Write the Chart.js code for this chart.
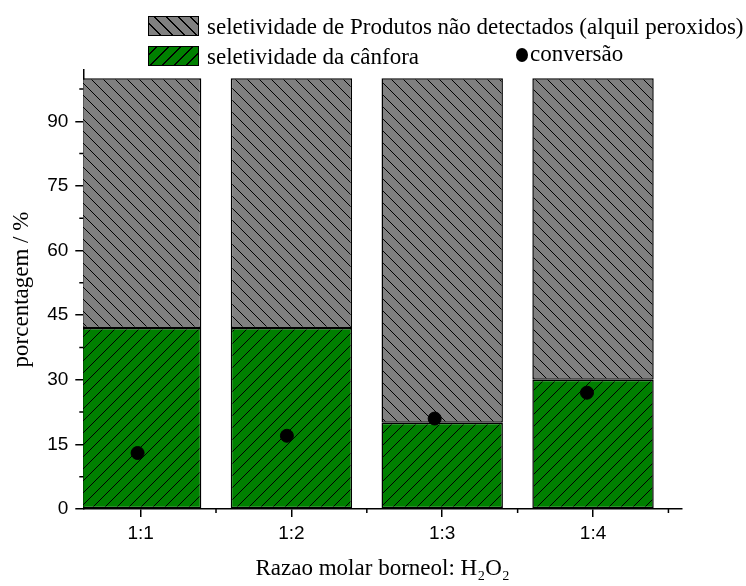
<!DOCTYPE html>
<html lang="pt">
  <head>
    <meta charset="UTF-8" />
    <title>Razao molar borneol</title>
    <script src="https://cdn.jsdelivr.net/npm/chart.js@4"></script>
    <style>
      body { margin: 0; background: #fff; }
      #wrap { position: relative; width: 746px; height: 586px; }
      .leg { position: absolute; font-family: "Liberation Serif", serif; font-size: 23px; color: #000; white-space: nowrap; line-height: 1; }
      .sw { position: absolute; width: 49px; height: 18px; border: 1.5px solid #000; }
      .sw-gray { background: repeating-linear-gradient(45deg, #808080 0 7.5px, #000 7.5px 8.5px); }
      .sw-green { background: repeating-linear-gradient(-45deg, #008000 0 7.5px, #000 7.5px 8.5px); }
      .dot { position: absolute; width: 12px; height: 14px; border-radius: 50%; background: #000; }
    </style>
  </head>
  <body>
    <div id="wrap">
      <canvas id="chart" width="746" height="586"></canvas>
      <div class="sw sw-gray" style="left: 148px; top: 16px"></div>
      <div class="leg" style="left: 207px; top: 15px">seletividade de Produtos não detectados (alquil peroxidos)</div>
      <div class="sw sw-green" style="left: 148px; top: 46px"></div>
      <div class="leg" style="left: 207px; top: 45px">seletividade da cânfora</div>
      <div class="dot" style="left: 516px; top: 48px"></div>
      <div class="leg" style="left: 530px; top: 42px">conversão</div>
    </div>
    <script>
      // razão molar borneol : H2O2
      var ratios = ["1:1", "1:2", "1:3", "1:4"];
      var ratioX = [1, 2, 3, 4];
      var camphor = [42, 42, 20, 30]; // seletividade da cânfora
      var undetected = [58, 58, 80, 70]; // produtos não detectados
      var conversion = [13, 17, 21, 27];
      var convX = [0.98, 1.97, 2.95, 3.96]; // os pontos ficam um pouco à esquerda
      var yTicks = [0, 15, 30, 45, 60, 75, 90];
      var yMinor = [7.5, 22.5, 37.5, 52.5, 67.5, 82.5, 97.5];
      var xMinor = [1.5, 2.5, 3.5, 4.5];

      function hatch(bg, forward) {
        var c = document.createElement("canvas");
        c.width = 12;
        c.height = 12;
        var g = c.getContext("2d");
        g.fillStyle = bg;
        g.fillRect(0, 0, 12, 12);
        g.strokeStyle = "#000";
        g.lineWidth = 1;
        g.beginPath();
        if (forward) {
          g.moveTo(-2, 14); g.lineTo(14, -2);
          g.moveTo(-2, 2); g.lineTo(2, -2);
          g.moveTo(10, 14); g.lineTo(14, 10);
        } else {
          g.moveTo(-2, -2); g.lineTo(14, 14);
          g.moveTo(-2, 10); g.lineTo(2, 14);
          g.moveTo(10, -2); g.lineTo(14, 2);
        }
        g.stroke();
        return g.createPattern(c, "repeat");
      }

      var ctx = document.getElementById("chart").getContext("2d");
      var greenFill = hatch("#008000", true);
      var grayFill = hatch("#808080", false);

      // ticks menores (Chart.js nao tem minor ticks)
      var minorTicks = {
        id: "minorTicks",
        afterDraw(chart) {
          var c = chart.ctx;
          var xs = chart.scales.x, ys = chart.scales.y;
          c.save();
          c.strokeStyle = "#000";
          c.lineWidth = 1.5;
          c.beginPath();
          xMinor.forEach(function (v) {
            var px = xs.getPixelForValue(v);
            c.moveTo(px, ys.bottom);
            c.lineTo(px, ys.bottom + 4);
          });
          yMinor.forEach(function (v) {
            var py = ys.getPixelForValue(v);
            c.moveTo(xs.left, py);
            c.lineTo(xs.left - 4, py);
          });
          c.stroke();
          c.restore();
        },
      };

      var chart = new Chart(ctx, {
        data: {
          datasets: [
            {
              type: "bar",
              label: "seletividade da cânfora",
              data: ratioX.map((x, i) => ({ x: x, y: camphor[i] })),
              backgroundColor: greenFill,
              borderColor: "#000",
              borderWidth: 1.5,
              borderSkipped: false,
              stack: "sel",
              categoryPercentage: 1,
              barPercentage: 0.805,
              order: 2,
            },
            {
              type: "bar",
              label: "seletividade de Produtos não detectados (alquil peroxidos)",
              data: ratioX.map((x, i) => ({ x: x, y: undetected[i] })),
              backgroundColor: grayFill,
              borderColor: "#000",
              borderWidth: 1.5,
              borderSkipped: false,
              stack: "sel",
              categoryPercentage: 1,
              barPercentage: 0.805,
              order: 2,
            },
            {
              type: "scatter",
              label: "conversão",
              data: convX.map((x, i) => ({ x: x, y: conversion[i] })),
              backgroundColor: "#000",
              borderColor: "#000",
              pointRadius: 6.5,
              pointHoverRadius: 6.5,
              stack: "conv",
              order: 1,
            },
          ],
        },
        options: {
          responsive: false,
          animation: false,
          layout: { padding: { top: 70, right: 64, left: 0, bottom: 0 } },
          plugins: {
            legend: { display: false },
            tooltip: { enabled: false },
          },
          scales: {
            x: {
              type: "linear",
              min: 0.62,
              max: 4.59,
              offset: false,
              stacked: true,
              afterFit: (s) => { s.height = 77; },
              afterBuildTicks: (s) => { s.ticks = ratioX.map((v) => ({ value: v })); },
              grid: { offset: false, drawOnChartArea: false, color: "#000", lineWidth: 1.5, tickLength: 8 },
              border: { color: "#000", width: 1.5 },
              ticks: {
                color: "#000",
                padding: 5,
                font: { family: "Liberation Sans", size: 19 },
                callback: (v) => ratios[ratioX.indexOf(v)] || "",
              },
              title: {
                display: true,
                text: "Razao molar borneol: H₂O₂",
                color: "#000",
                font: { family: "Liberation Serif", size: 23 },
                padding: { top: 0, bottom: 3 },
              },
            },
            y: {
              min: 0,
              max: 101.9,
              stacked: true,
              afterFit: (s) => { s.width = 83.3; },
              afterBuildTicks: (s) => { s.ticks = yTicks.map((v) => ({ value: v })); },
              grid: { drawOnChartArea: false, color: "#000", lineWidth: 1.5, tickLength: 8 },
              border: { color: "#000", width: 1.5 },
              ticks: {
                color: "#000",
                padding: 7,
                font: { family: "Liberation Sans", size: 19 },
              },
              title: {
                display: true,
                text: "porcentagem / %",
                color: "#000",
                font: { family: "Liberation Serif", size: 23 },
                padding: { top: 8, bottom: 0 },
              },
            },
          },
        },
        plugins: [minorTicks],
      });
    </script>
  </body>
</html>
